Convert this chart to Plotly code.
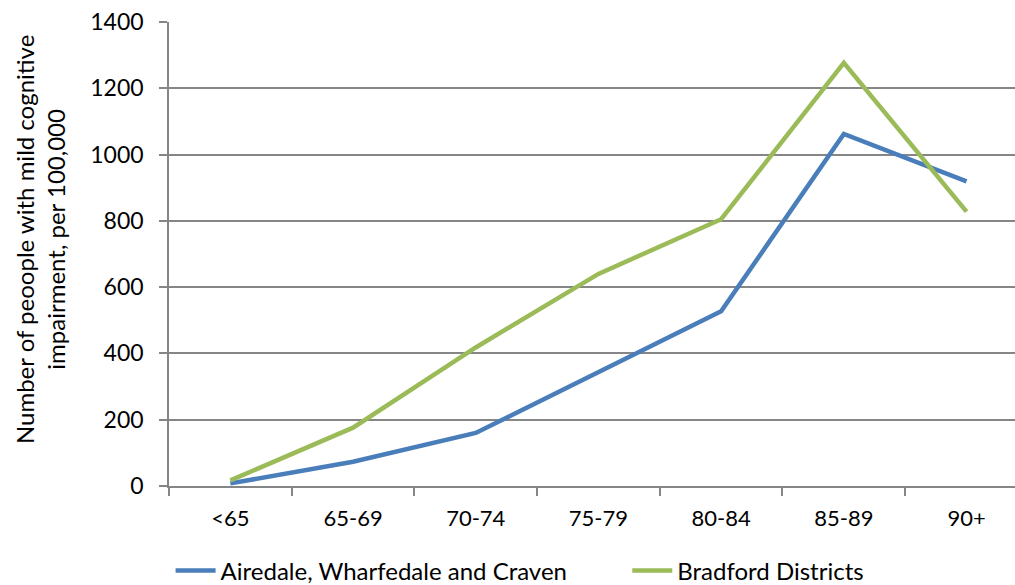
import plotly.graph_objects as go

categories = ["<65", "65-69", "70-74", "75-79", "80-84", "85-89", "90+"]
airedale = [8, 73, 160, 342, 527, 1062, 919]
bradford = [17, 176, 418, 640, 805, 1277, 828]
y_ticks = [0, 200, 400, 600, 800, 1000, 1200, 1400]
series_names = ["Airedale, Wharfedale and Craven", "Bradford Districts"]

FONT = "Lato"
NBSP = "\u00a0"
fig = go.Figure()
fig.add_trace(go.Scatter(x=categories, y=airedale, mode="lines",
                         name=series_names[0] + NBSP * 9,
                         line=dict(color="#4A7EBB", width=4.5)))
fig.add_trace(go.Scatter(x=categories, y=bradford, mode="lines",
                         name=series_names[1],
                         line=dict(color="#9BBB59", width=4.5)))

fig.update_layout(
    width=1015, height=585,
    margin=dict(l=169, r=0, t=22, b=99, autoexpand=False),
    paper_bgcolor="white", plot_bgcolor="white",
    font=dict(family=FONT, size=22, color="black"),
    showlegend=True,
    legend=dict(orientation="h", xref="paper", x=0.415, xanchor="center",
                yref="container", y=(585 - 571) / 585, yanchor="middle",
                font=dict(size=24), itemwidth=40, tracegroupgap=0),
    xaxis=dict(type="category", range=[-0.5, 6.395], tickson="boundaries",
               ticks="outside", ticklen=8, tickcolor="#868686", tickwidth=1.5,
               showline=True, linecolor="#868686", linewidth=1.5,
               showgrid=False, zeroline=False, ticklabelstandoff=12,
               tickfont=dict(size=22), automargin=False),
    yaxis=dict(range=[0, 1400], tickvals=y_ticks, ticks="outside", ticklen=8,
               tickcolor="#868686", tickwidth=1.5,
               showline=True, linecolor="#868686", linewidth=1.5,
               showgrid=True, gridcolor="#868686", gridwidth=1.5,
               zeroline=False, ticklabelstandoff=11, tickfont=dict(size=23),
               automargin=False),
)

fig.add_annotation(text="Number of peoople with mild cognitive<br>impairment, per 100,000",
                   xref="paper", yref="paper", x=(40 - 169) / 846, y=0.53,
                   xanchor="center", yanchor="middle", textangle=-90,
                   showarrow=False, font=dict(family=FONT, size=24))

fig.write_html(
    "out.html",
    config={"displayModeBar": False},
    post_script=(
        "document.body.style.margin='0';"
        "var d=document.getElementById('{plot_id}');"
        "d.style.position='fixed';d.style.top='0';d.style.left='0';"
    ),
)
